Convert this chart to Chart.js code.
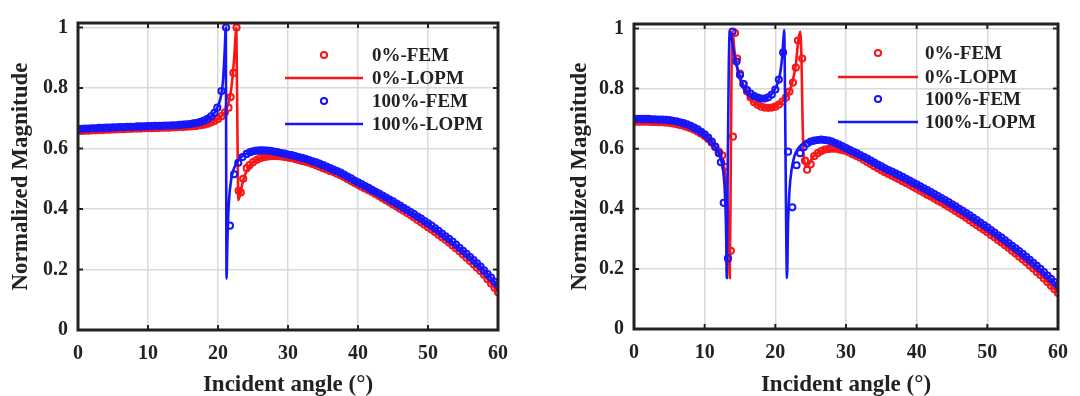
<!DOCTYPE html>
<html>
<head>
<meta charset="utf-8">
<script src="https://cdn.jsdelivr.net/npm/chart.js@4.4.1/dist/chart.umd.min.js"></script>
<style>
  html, body { margin: 0; padding: 0; background: #fff; }
  #wrap { display: flex; width: 1080px; height: 396px; }
  canvas { display: block; }
</style>
</head>
<body>
<div id="wrap">
  <canvas id="chartL" width="540" height="396"></canvas>
  <canvas id="chartR" width="540" height="396"></canvas>
</div>
<script>
// ---- data ----
var xTicks = [0, 10, 20, 30, 40, 50, 60];
var yTicks = [0, 0.2, 0.4, 0.6, 0.8, 1];
var yTickLabels = ['0', '0.2', '0.4', '0.6', '0.8', '1'];
var seriesNames = ['0%-FEM', '0%-LOPM', '100%-FEM', '100%-LOPM'];

// FEM sampling angles (0.5 deg grid); resonance windows listed separately below
var femAng = [0,0.5,1,1.5,2,2.5,3,3.5,4,4.5,5,5.5,6,6.5,7,7.5,8,8.5,9,9.5,
  10,10.5,11,11.5,12,12.5,13,13.5,14,14.5,15,15.5,16,16.5,17,17.5,18,18.5,19,19.5,
  20,20.5,21,21.5,22,22.5,23,23.5,24,24.5,25,25.5,26,26.5,27,27.5,28,28.5,29,29.5,
  30,30.5,31,31.5,32,32.5,33,33.5,34,34.5,35,35.5,36,36.5,37,37.5,38,38.5,39,39.5,
  40,40.5,41,41.5,42,42.5,43,43.5,44,44.5,45,45.5,46,46.5,47,47.5,48,48.5,49,49.5,
  50,50.5,51,51.5,52,52.5,53,53.5,54,54.5,55,55.5,56,56.5,57,57.5,58,58.5,59,59.5,60];

// left panel
var leftLopm0Ang = [0,5,10,14,17,18.5,19.5,20.5,21.2,21.7,22.1,22.4,22.6,22.72,22.82,22.92,23.2,23.6,24.2,25,
  26,27.5,29,31,33,35,37.5,40,42.5,45,47.5,50,52.5,55,57.5,60];
var leftLopm0 = [0.658,0.663,0.667,0.670,0.675,0.682,0.691,0.707,0.73,0.77,0.84,0.93,1.0,0.80,0.55,0.43,0.455,0.495,0.53,0.555,
  0.568,0.575,0.574,0.565,0.553,0.535,0.512,0.480,0.450,0.415,0.380,0.340,0.298,0.250,0.195,0.125];
var leftLopm100Ang = [0,5,10,14,16,17.5,18.5,19.3,19.9,20.4,20.7,20.95,21.12,21.17,21.22,21.35,21.55,21.9,22.3,22.9,
  23.5,24.5,25.5,27,29,31,33,35,37.5,40,42.5,45,47.5,50,52.5,55,57.5,60];
var leftLopm100 = [0.665,0.670,0.674,0.677,0.681,0.688,0.698,0.712,0.735,0.77,0.82,0.92,1.0,0.55,0.17,0.30,0.42,0.50,0.535,0.56,
  0.575,0.588,0.594,0.592,0.585,0.575,0.562,0.545,0.520,0.488,0.457,0.425,0.390,0.353,0.310,0.262,0.210,0.148];

var leftFem0ResAng = [21.0,21.5,21.8,22.2,22.65,22.95,23.25,23.6,24.1,24.5,25];
var leftFem0 = [
  0.658,0.658,0.659,0.659,0.660,0.660,0.661,0.661,0.662,0.662,
  0.663,0.663,0.664,0.664,0.665,0.665,0.666,0.666,0.666,0.667,
  0.667,0.667,0.668,0.668,0.669,0.669,0.669,0.670,0.670,0.671,
  0.671,0.672,0.673,0.674,0.675,0.677,0.679,0.682,0.686,0.691,
  0.698,0.707,
  0.72,0.735,0.77,0.85,1.0,0.46,0.455,0.50,0.535,0.545,0.555,
  0.562,0.568,0.571,0.573,0.575,0.575,0.575,0.574,0.572,0.570,
  0.568,0.565,0.562,0.559,0.556,0.553,0.549,0.545,0.540,0.535,
  0.531,0.526,0.522,0.517,0.512,0.506,0.499,0.493,0.486,0.480,
  0.474,0.468,0.462,0.456,0.450,0.443,0.436,0.429,0.422,0.415,
  0.408,0.401,0.394,0.387,0.380,0.372,0.364,0.356,0.348,0.340,
  0.332,0.324,0.315,0.307,0.298,0.289,0.279,0.270,0.260,0.250,
  0.239,0.228,0.217,0.206,0.195,0.183,0.168,0.154,0.140,0.125];

var leftFem100ResAng = [19.9,20.5,21.15,21.7,22.3,22.9,23.5,24.1,24.6,25];
var leftFem100 = [
  0.665,0.665,0.666,0.666,0.667,0.667,0.668,0.668,0.669,0.669,
  0.670,0.670,0.671,0.671,0.672,0.672,0.672,0.673,0.673,0.673,
  0.674,0.674,0.675,0.675,0.675,0.676,0.676,0.677,0.677,0.678,
  0.679,0.680,0.681,0.683,0.685,0.688,0.692,0.698,0.706,0.718,
  0.735,0.79,1.0,0.345,0.515,0.553,0.572,0.582,0.588,0.591,
  0.593,0.594,0.594,0.593,0.592,0.590,0.588,0.585,0.583,0.580,
  0.578,0.575,0.572,0.569,0.566,0.562,0.558,0.554,0.550,0.545,
  0.540,0.535,0.530,0.525,0.520,0.514,0.507,0.501,0.494,0.488,
  0.482,0.476,0.470,0.463,0.457,0.451,0.444,0.438,0.431,0.425,
  0.418,0.411,0.404,0.397,0.390,0.383,0.375,0.368,0.360,0.353,
  0.345,0.336,0.328,0.319,0.310,0.301,0.292,0.282,0.272,0.262,
  0.252,0.241,0.231,0.220,0.210,0.197,0.185,0.173,0.160,0.148];

// right panel
var rightLopm0Ang = [0,2,4,5,6,7,8,9,10,10.5,11,11.5,12,12.4,12.8,13.1,13.3,13.45,13.55,13.68,
  13.8,13.95,14.2,14.6,15,15.5,16,16.8,17.5,18.5,19.3,20,20.7,21.4,22,22.5,22.9,23.2,23.5,23.7,
  23.85,24.0,24.4,24.8,25.3,26,27,28,29,30,32.5,35,37.5,40,42.5,45,47.5,50,52.5,55,57.5,60];
var rightLopm0 = [0.690,0.690,0.688,0.686,0.682,0.676,0.668,0.657,0.642,0.632,0.620,0.605,0.590,0.572,0.535,0.47,0.38,0.25,0.17,0.50,
  0.85,0.99,0.93,0.87,0.83,0.80,0.78,0.758,0.745,0.737,0.737,0.742,0.752,0.767,0.79,0.83,0.88,0.95,0.99,0.90,
  0.70,0.58,0.54,0.55,0.572,0.585,0.597,0.600,0.598,0.592,0.563,0.528,0.498,0.467,0.434,0.400,0.362,0.322,0.279,0.232,0.180,0.120];
var rightLopm100Ang = [0,2,4,5,6,7,8,9,10,10.5,11,11.5,12,12.3,12.6,12.8,12.95,13.05,13.12,13.25,
  13.4,13.55,13.8,14.2,14.6,15,15.5,16,16.8,17.5,18.3,19,19.6,20.2,20.6,20.9,21.1,21.25,21.4,21.55,
  21.65,21.8,22.0,22.3,22.7,23.2,24,25,26,27,28,29,30,32.5,35,37.5,40,42.5,45,47.5,50,52.5,55,57.5,60];
var rightLopm100 = [0.699,0.699,0.697,0.695,0.691,0.685,0.676,0.664,0.648,0.637,0.624,0.607,0.585,0.565,0.53,0.48,0.40,0.30,0.17,0.50,
  0.85,0.99,0.97,0.91,0.87,0.84,0.81,0.79,0.775,0.768,0.766,0.772,0.785,0.81,0.84,0.89,0.95,0.995,0.70,0.30,
  0.17,0.35,0.46,0.53,0.575,0.60,0.618,0.627,0.630,0.629,0.624,0.614,0.602,0.573,0.541,0.512,0.481,0.449,0.415,0.378,
  0.338,0.295,0.250,0.200,0.145];

var rightFem0ResAng = [12.5,12.9,13.7,14.0,14.3,14.6,15.0,15.5,16,16.5,17,17.5,18,18.5,19,19.5,20,20.5,21,21.5,
  22,22.5,22.9,23.2,23.8,24.2,24.5,25];
var rightFem0 = [
  0.690,0.690,0.690,0.690,0.690,0.689,0.689,0.688,0.688,0.687,
  0.686,0.684,0.682,0.679,0.676,0.672,0.668,0.663,0.657,0.650,
  0.642,0.632,0.620,0.605,0.590,
  0.578,0.54,0.26,0.64,0.985,0.90,0.85,0.815,0.79,0.77,0.755,0.746,0.740,0.737,0.736,0.737,0.740,0.747,0.757,0.77,
  0.79,0.82,0.87,0.96,0.90,0.56,0.53,0.548,
  0.575,0.585,0.592,0.597,0.599,0.600,0.600,0.598,0.595,0.592,
  0.587,0.581,0.576,0.570,0.563,0.556,0.549,0.542,0.535,0.528,
  0.522,0.516,0.510,0.504,0.498,0.492,0.486,0.480,0.473,0.467,
  0.460,0.454,0.447,0.441,0.434,0.427,0.421,0.414,0.407,0.400,
  0.393,0.385,0.378,0.370,0.362,0.354,0.346,0.338,0.330,0.322,
  0.313,0.305,0.296,0.288,0.279,0.270,0.260,0.251,0.241,0.232,
  0.222,0.211,0.201,0.190,0.180,0.168,0.156,0.144,0.132,0.120];

var rightFem100ResAng = [12.3,12.7,13.3,13.95,14.5,15,15.5,16,16.5,17,17.5,18,18.5,19,19.5,20,20.5,21.1,21.8,22.4,
  23.0,23.5,24.0,24.5,25];
var rightFem100 = [
  0.699,0.699,0.699,0.699,0.699,0.698,0.698,0.697,0.697,0.696,
  0.695,0.693,0.691,0.688,0.685,0.681,0.676,0.670,0.664,0.656,
  0.648,0.637,0.624,0.607,0.585,
  0.555,0.42,0.235,0.99,0.89,0.845,0.815,0.795,0.783,0.775,0.770,0.767,0.767,0.771,0.780,0.797,0.83,0.92,0.59,0.405,
  0.545,0.585,0.605,0.617,0.624,
  0.627,0.629,0.630,0.629,0.627,0.624,0.619,0.614,0.608,0.602,
  0.596,0.590,0.585,0.579,0.573,0.567,0.560,0.554,0.547,0.541,
  0.535,0.529,0.524,0.518,0.512,0.506,0.500,0.494,0.487,0.481,
  0.475,0.468,0.462,0.456,0.449,0.442,0.436,0.429,0.422,0.415,
  0.408,0.400,0.393,0.386,0.378,0.370,0.362,0.354,0.346,0.338,
  0.329,0.321,0.312,0.304,0.295,0.286,0.277,0.268,0.259,0.250,
  0.240,0.230,0.220,0.210,0.200,0.189,0.178,0.167,0.156,0.145];

// ---- helpers ----
var RED = 'rgb(250,22,22)';
var BLUE = 'rgb(22,22,250)';
var INK = '#222';
var SERIF = "'Liberation Serif', 'Times New Roman', serif";

function pts(xs, ys) {
  return xs.map(function (x, i) { return { x: x, y: ys[i] }; });
}

// FEM x positions: grid head + resonance window + grid tail from 25.5
function femX(headEnd, res) {
  var head = femAng.filter(function (a) { return a <= headEnd; });
  var tail = femAng.filter(function (a) { return a > 25; });
  return head.concat(res, tail);
}

function femSet(label, color, xs, ys, order) {
  return {
    label: label, data: pts(xs, ys), order: order,
    showLine: false, pointStyle: 'circle', pointRadius: 3.1,
    pointBorderWidth: 2, pointBorderColor: color,
    pointBackgroundColor: 'rgba(0,0,0,0)', borderColor: color
  };
}

function lineSet(label, color, xs, ys, order) {
  return {
    label: label, data: pts(xs, ys), order: order,
    showLine: true, pointRadius: 0, borderColor: color, borderWidth: 2.6,
    cubicInterpolationMode: 'monotone', backgroundColor: color
  };
}

// box, inward ticks and legend drawn inside the plot, MATLAB style
var framePlugin = {
  id: 'frame',
  afterDraw: function (chart, args, opts) {
    var ctx = chart.ctx, a = chart.chartArea, sx = chart.scales.x, sy = chart.scales.y;
    ctx.save();
    ctx.strokeStyle = INK;
    ctx.lineWidth = 2;
    ctx.beginPath();
    xTicks.forEach(function (v) {
      var px = sx.getPixelForValue(v);
      ctx.moveTo(px, a.bottom); ctx.lineTo(px, a.bottom - 5);
      ctx.moveTo(px, a.top); ctx.lineTo(px, a.top + 5);
    });
    yTicks.forEach(function (v) {
      var py = sy.getPixelForValue(v);
      ctx.moveTo(a.left, py); ctx.lineTo(a.left + 5, py);
      ctx.moveTo(a.right, py); ctx.lineTo(a.right - 5, py);
    });
    ctx.stroke();
    ctx.lineWidth = 3;
    ctx.strokeRect(a.left, a.top, a.right - a.left, a.bottom - a.top);

    // legend
    ctx.font = 'bold 19px ' + SERIF;
    ctx.textBaseline = 'middle';
    ctx.textAlign = 'left';
    chart.data.datasets.forEach(function (ds, i) {
      var y = opts.rows[i];
      if (ds.showLine) {
        ctx.strokeStyle = ds.borderColor;
        ctx.lineWidth = 2.6;
        ctx.beginPath(); ctx.moveTo(opts.lx0, y); ctx.lineTo(opts.lx1, y); ctx.stroke();
      } else {
        ctx.strokeStyle = ds.pointBorderColor;
        ctx.lineWidth = 2;
        ctx.beginPath(); ctx.arc(opts.mx, y, 3.1, 0, Math.PI * 2); ctx.stroke();
      }
      ctx.fillStyle = INK;
      ctx.fillText(ds.label, opts.tx, y + 1);
    });
    ctx.restore();
  }
};

function makeChart(id, datasets, lay) {
  return new Chart(document.getElementById(id), {
    type: 'scatter',
    data: { datasets: datasets },
    plugins: [framePlugin],
    options: {
      responsive: false,
      animation: false,
      devicePixelRatio: 1,
      layout: { padding: { top: lay.top, right: lay.right, left: 0, bottom: 0 } },
      plugins: {
        legend: { display: false },
        tooltip: { enabled: false },
        frame: lay.legend
      },
      scales: {
        x: {
          type: 'linear', min: 0, max: 60,
          afterFit: function (s) { s.height = lay.xh; },
          afterBuildTicks: function (s) { s.ticks = xTicks.map(function (v) { return { value: v }; }); },
          ticks: {
            color: INK, padding: 12,
            font: { family: SERIF, size: 20, weight: 'bold' },
            callback: function (v) { return String(v); }
          },
          grid: { color: '#d9d9d9', lineWidth: 1.5, drawTicks: false },
          border: { display: false },
          title: {
            display: true, text: 'Incident angle (°)', color: INK,
            font: { family: SERIF, size: 23, weight: 'bold', lineHeight: 1 },
            padding: { top: 0, bottom: -1 }
          }
        },
        y: {
          type: 'linear', min: 0, max: 1.015,
          afterFit: function (s) { s.width = lay.yw; },
          afterBuildTicks: function (s) { s.ticks = yTicks.map(function (v) { return { value: v }; }); },
          ticks: {
            color: INK, padding: 10,
            font: { family: SERIF, size: 20, weight: 'bold' },
            callback: function (v, i) { return yTickLabels[i]; }
          },
          grid: { color: '#d9d9d9', lineWidth: 1.5, drawTicks: false },
          border: { display: false },
          title: {
            display: true, text: 'Normalized Magnitude', color: INK,
            font: { family: SERIF, size: 23, weight: 'bold', lineHeight: 1 },
            padding: { top: lay.titlePad, bottom: 0 }
          }
        }
      }
    }
  });
}

makeChart('chartL', [
  femSet(seriesNames[0], RED, femX(20.5, leftFem0ResAng), leftFem0, 4),
  lineSet(seriesNames[1], RED, leftLopm0Ang, leftLopm0, 3),
  femSet(seriesNames[2], BLUE, femX(19.5, leftFem100ResAng), leftFem100, 2),
  lineSet(seriesNames[3], BLUE, leftLopm100Ang, leftLopm100, 1)
], {
  top: 23, right: 42, xh: 66, yw: 78, titlePad: 10,
  legend: { lx0: 285, lx1: 363, mx: 324, tx: 372, rows: [55, 78, 101, 124] }
});

makeChart('chartR', [
  femSet(seriesNames[0], RED, femX(12, rightFem0ResAng), rightFem0, 4),
  lineSet(seriesNames[1], RED, rightLopm0Ang, rightLopm0, 3),
  femSet(seriesNames[2], BLUE, femX(12, rightFem100ResAng), rightFem100, 2),
  lineSet(seriesNames[3], BLUE, rightLopm100Ang, rightLopm100, 1)
], {
  top: 24, right: 22, xh: 67, yw: 94, titlePad: 29,
  legend: { lx0: 298, lx1: 378, mx: 338, tx: 385, rows: [53, 77, 99, 122] }
});
</script>
</body>
</html>
